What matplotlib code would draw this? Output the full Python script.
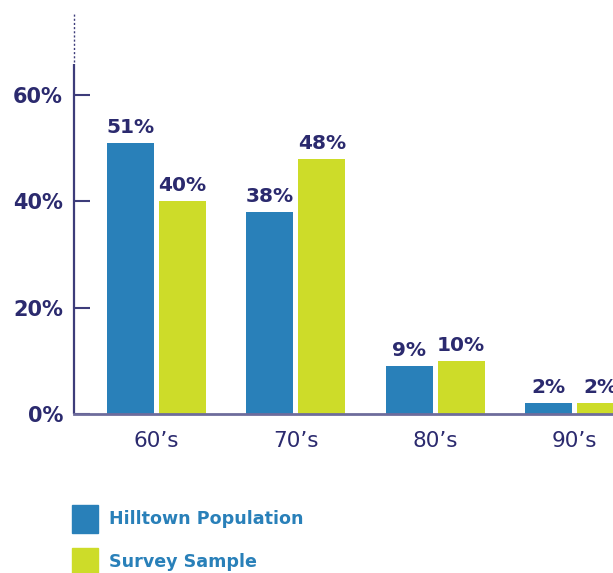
import matplotlib
matplotlib.use("Agg")
import matplotlib.pyplot as plt
from matplotlib.patches import Rectangle
import numpy as np

categories = ["60\u2019s", "70\u2019s", "80\u2019s", "90\u2019s"]
series_names = ["Hilltown Population", "Survey Sample"]
hilltown = [51, 38, 9, 2]
survey = [40, 48, 10, 2]
y_ticks = [0, 20, 40, 60]
y_tick_labels = ["0%", "20%", "40%", "60%"]

BLUE = "#2980b9"
GREEN = "#cddc29"
NAVY = "#2b2a6e"
AXIS_LEFT = "#3d3c7a"
AXIS_BOTTOM = "#6e6c9c"

W, H = 613, 573
fig = plt.figure(figsize=(W / 100, H / 100), dpi=100)

# axes placed in pixel units
ax_left, ax_bottom_px, ax_top_px = 74, 414, 12
ax = fig.add_axes([ax_left / W, (H - ax_bottom_px) / H,
                   (W - ax_left) / W, (ax_bottom_px - ax_top_px) / H])

x = np.arange(len(categories))
bar_w = 0.337
offset = 0.187
ax.bar(x - offset, hilltown, width=bar_w, color=BLUE, zorder=2)
ax.bar(x + offset, survey, width=bar_w, color=GREEN, zorder=2)

label_font = dict(fontsize=14.5, fontweight="bold", color=NAVY,
                  family="DejaVu Sans")
for xi, v in zip(x, hilltown):
    ax.annotate(f"{v}%", (xi - offset, v), xytext=(0, 4.5),
                textcoords="offset points", ha="center", va="bottom",
                annotation_clip=False, **label_font)
for xi, v in zip(x, survey):
    ax.annotate(f"{v}%", (xi + offset, v), xytext=(0, 4.5),
                textcoords="offset points", ha="center", va="bottom",
                annotation_clip=False, **label_font)

ax.set_xlim(-0.592, 3.276)
ax.set_ylim(0, 75.6)

for s in ["top", "right", "left"]:
    ax.spines[s].set_visible(False)
ax.spines["bottom"].set_color(AXIS_BOTTOM)
ax.spines["bottom"].set_linewidth(2)
ax.spines["bottom"].set_zorder(3)

# vertical axis: solid below, dotted above
y_solid = 65.8
ax.plot([-0.592, -0.592], [0, y_solid], color=AXIS_LEFT, lw=1.6,
        clip_on=False, zorder=3, solid_capstyle="butt")
ax.plot([-0.592, -0.592], [y_solid + 0.4, 75.6], color=AXIS_LEFT, lw=1.0,
        ls=(0, (1.5, 1.5)), clip_on=False, zorder=3)

ax.set_yticks(y_ticks)
ax.set_yticklabels(y_tick_labels)
ax.tick_params(axis="y", direction="in", length=11.5, width=1.5,
               color=AXIS_LEFT, pad=8, labelsize=15, labelcolor=NAVY)
for t in ax.get_yticklabels():
    t.set_fontweight("bold")

ax.set_xticks(x)
ax.set_xticklabels(categories)
ax.tick_params(axis="x", length=0, pad=12, labelsize=15.5, labelcolor=NAVY)

# legend
for i, (name, col) in enumerate(zip(series_names, [BLUE, GREEN])):
    top = 505 + i * 43
    fig.patches.append(Rectangle((72 / W, (H - top - 28) / H), 26 / W, 28 / H,
                                 transform=fig.transFigure, color=col))
    fig.text(109 / W, (H - top - 14) / H, name, fontsize=12.6,
             fontweight="bold", color=BLUE, va="center", ha="left")

fig.savefig("out.png", dpi=100)
